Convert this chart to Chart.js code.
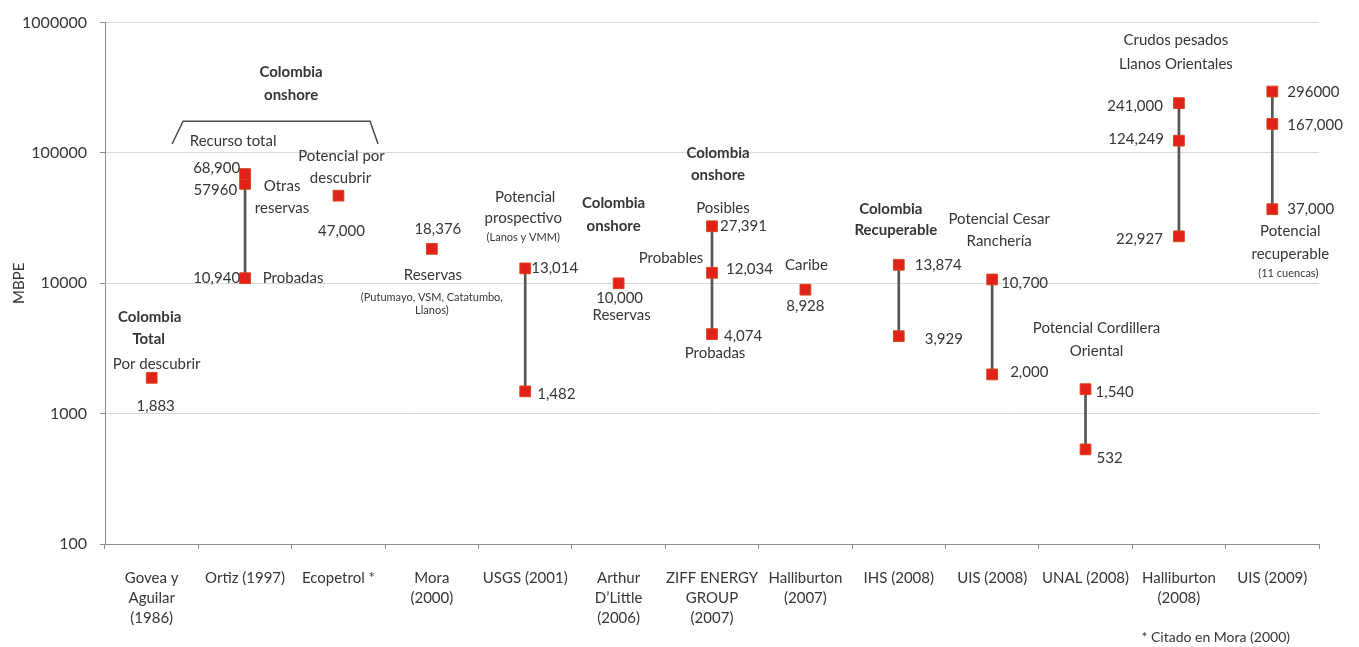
<!DOCTYPE html>
<html>
<head>
<meta charset="utf-8">
<title>Estimaciones de recursos de crudo pesado en Colombia</title>
<script src="https://cdn.jsdelivr.net/npm/chart.js@4/dist/chart.umd.min.js"></script>
<style>
  html, body { margin: 0; padding: 0; background: #ffffff; }
  #wrap { width: 1359px; height: 647px; }
</style>
</head>
<body>
<div id="wrap"><canvas id="chart" width="1359" height="647"></canvas></div>
<script>
// ---- Data -------------------------------------------------------------
const categories = [
  ['Govea y', 'Aguilar', '(1986)'],
  ['Ortiz (1997)'],
  ['Ecopetrol *'],
  ['Mora', '(2000)'],
  ['USGS (2001)'],
  ['Arthur', 'D\u2019Little', '(2006)'],
  ['ZIFF ENERGY', 'GROUP', '(2007)'],
  ['Halliburton', '(2007)'],
  ['IHS (2008)'],
  ['UIS (2008)'],
  ['UNAL (2008)'],
  ['Halliburton', '(2008)'],
  ['UIS (2009)']
];

// MBPE estimates per source: highest, intermediate and lowest figure
const highValues = [1883, 68900, 47000, 18376, 13014, 10000, 27391, 8928, 13874, 10700, 1540, 241000, 296000];
const midValues  = [null, 57960, null, null, null, null, 12034, null, null, null, null, 124249, 167000];
const lowValues  = [null, 10940, null, null, 1482, null, 4074, null, 3929, 2000, 532, 22927, 37000];

// figures that are printed without thousands separator
const ungroupedValues = [57960, 296000];

const yTickValues = [100, 1000, 10000, 100000, 1000000];

// ---- Styling ------------------------------------------------------------
const FONT = 'Lato, "Open Sans", sans-serif';
const TEXT = '#363636';
const MARKER = '#e2211b';
const STEM = '#555555';

// label offsets [dx, dy, align] next to each marker
const highPlace = [
  [4, 28, 'center'], [-5, -6, 'right'], [3, 35, 'center'], [6, -20, 'center'],
  [6, 0, 'left'], [1, 15, 'center'], [8, 0, 'left'], [0, 16, 'center'],
  [16, 0, 'left'], [9, 4, 'left'], [10, 3, 'left'], [-16, 3, 'right'], [15, 1, 'left']
];
const midPlace = [
  null, [-8, 6, 'right'], null, null, null, null, [14, -4, 'left'],
  null, null, null, null, [-15, -2, 'right'], [15, 1, 'left']
];
const lowPlace = [
  null, [-5, 0, 'right'], null, null, [12, 3, 'left'], null, [12, 2, 'left'],
  null, [26, 3, 'left'], [18, -2, 'left'], [11, 9, 'left'], [-16, 3, 'right'], [15, 0, 'left']
];

// captions: category index, x offset, height in log10(MBPE), text, style
const captions = [
  [0, -2, 3.740, 'Colombia', 'b'], [0, -3, 3.573, 'Total', 'b'], [0, 5, 3.382, 'Por descubrir', 'n'],
  [1, 46, 5.618, 'Colombia', 'b'], [1, 46, 5.443, 'onshore', 'b'],
  [1, -12, 5.092, 'Recurso total', 'n'], [1, 37, 4.748, 'Otras', 'n'], [1, 37, 4.573, 'reservas', 'n'],
  [1, 48, 4.038, 'Probadas', 'n'],
  [2, 3, 4.977, 'Potencial por', 'n'], [2, 2, 4.809, 'descubrir', 'n'],
  [3, 1, 4.061, 'Reservas', 'n'], [3, 0, 3.893, '(Putumayo, VSM, Catatumbo,', 's'], [3, 0, 3.794, 'Llanos)', 's'],
  [4, 0, 4.664, 'Potencial', 'n'], [4, -2, 4.496, 'prospectivo', 'n'], [4, -2, 4.351, '(Lanos y VMM)', 's'],
  [5, -5, 4.611, 'Colombia', 'b'], [5, -5, 4.435, 'onshore', 'b'], [5, 3, 3.756, 'Reservas', 'n'],
  [6, 6, 5.000, 'Colombia', 'b'], [6, 6, 4.832, 'onshore', 'b'], [6, 11, 4.573, 'Posibles', 'n'],
  [6, -41, 4.191, 'Probables', 'n'], [6, 3, 3.466, 'Probadas', 'n'],
  [7, 1, 4.137, 'Caribe', 'n'],
  [8, -8, 4.565, 'Colombia', 'b'], [8, -3, 4.405, 'Recuperable', 'b'],
  [9, 7, 4.489, 'Potencial Cesar', 'n'], [9, 7, 4.321, 'Ranchería', 'n'],
  [10, 11, 3.656, 'Potencial Cordillera', 'n'], [10, 11, 3.481, 'Oriental', 'n'],
  [11, -3, 5.863, 'Crudos pesados', 'n'], [11, -3, 5.679, 'Llanos Orientales', 'n'],
  [12, 18, 4.397, 'Potencial', 'n'], [12, 18, 4.221, 'recuperable', 'n'], [12, 16, 4.076, '(11 cuencas)', 's']
];

// brace over the two "Colombia onshore" sources (Ortiz, Ecopetrol)
const braceAnchor = 1;
const bracePath = [[-73, 5.069], [-62, 5.244], [125, 5.244], [133, 5.069]];

const formatValue = v => ungroupedValues.includes(v) ? String(v) : v.toLocaleString('en-US');

const ranges = categories.map((_, i) => lowValues[i] != null ? [lowValues[i], highValues[i]] : null);

const pointSeries = [
  { values: highValues, place: highPlace },
  { values: midValues, place: midPlace },
  { values: lowValues, place: lowPlace }
];

function markerDataset(values) {
  return {
    type: 'line',
    data: values,
    showLine: false,
    pointStyle: 'rect',
    pointRadius: 7.6,
    pointBackgroundColor: MARKER,
    pointBorderColor: '#d9461e',
    pointBorderWidth: 1,
    order: 0
  };
}

// ---- Text and brace overlay --------------------------------------------
const annotationPlugin = {
  id: 'annotations',
  afterDatasetsDraw(chart) {
    const { ctx, scales: { x, y } } = chart;
    ctx.save();
    ctx.fillStyle = TEXT;
    ctx.textBaseline = 'middle';

    // value labels next to the markers
    ctx.font = '15px ' + FONT;
    pointSeries.forEach((series, k) => {
      const meta = chart.getDatasetMeta(k + 1);
      series.values.forEach((v, i) => {
        if (v == null) return;
        const p = series.place[i];
        const el = meta.data[i];
        ctx.textAlign = p[2];
        ctx.fillText(formatValue(v), el.x + p[0], el.y + p[1]);
      });
    });

    // captions
    ctx.textAlign = 'center';
    captions.forEach(([i, dx, lv, text, style]) => {
      ctx.font = style === 'b' ? 'bold 15px ' + FONT : style === 's' ? '11px ' + FONT : '15px ' + FONT;
      ctx.fillText(text, x.getPixelForValue(i) + dx, y.getPixelForValue(Math.pow(10, lv)));
    });

    // brace
    const cx = x.getPixelForValue(braceAnchor);
    ctx.strokeStyle = '#4a4a4a';
    ctx.lineWidth = 1.5;
    ctx.beginPath();
    bracePath.forEach(([dx, lv], n) => {
      const px = cx + dx, py = y.getPixelForValue(Math.pow(10, lv));
      if (n === 0) ctx.moveTo(px, py); else ctx.lineTo(px, py);
    });
    ctx.stroke();

    // footnote
    ctx.font = '14px ' + FONT;
    ctx.textAlign = 'right';
    ctx.fillText('* Citado en Mora (2000)', chart.chartArea.right - 29, 637);
    ctx.restore();
  }
};

new Chart(document.getElementById('chart'), {
  type: 'bar',
  data: {
    labels: categories,
    datasets: [
      {
        data: ranges,
        backgroundColor: STEM,
        borderWidth: 0,
        barThickness: 2,
        order: 1
      },
      markerDataset(highValues),
      markerDataset(midValues),
      markerDataset(lowValues)
    ]
  },
  options: {
    responsive: false,
    animation: false,
    events: [],
    layout: { padding: { top: 20, right: 40, bottom: 0, left: 0 } },
    plugins: {
      legend: { display: false },
      tooltip: { enabled: false }
    },
    scales: {
      x: {
        type: 'category',
        offset: true,
        afterFit: s => { s.height = 103; },
        grid: {
          offset: true,
          drawOnChartArea: false,
          drawTicks: true,
          tickLength: 5,
          color: '#8c8c8c'
        },
        border: { color: '#8c8c8c', width: 1 },
        ticks: {
          autoSkip: false,
          maxRotation: 0,
          minRotation: 0,
          padding: 19,
          color: TEXT,
          font: { family: FONT, size: 15, lineHeight: 1.35 }
        }
      },
      y: {
        type: 'logarithmic',
        min: 100,
        max: 1000000,
        afterFit: s => { s.width = 105; },
        afterBuildTicks: s => { s.ticks = yTickValues.map(v => ({ value: v })); },
        grid: {
          color: '#d9d9d9',
          tickColor: '#8c8c8c',
          tickLength: 5,
          lineWidth: 1
        },
        border: { color: '#8c8c8c', width: 1 },
        ticks: {
          padding: 13,
          color: TEXT,
          font: { family: FONT, size: 16 },
          callback: v => String(v)
        },
        title: {
          display: true,
          text: 'MBPE',
          color: TEXT,
          font: { family: FONT, size: 15 },
          padding: { top: 10, bottom: 0 }
        }
      }
    }
  },
  plugins: [annotationPlugin]
});
</script>
</body>
</html>
